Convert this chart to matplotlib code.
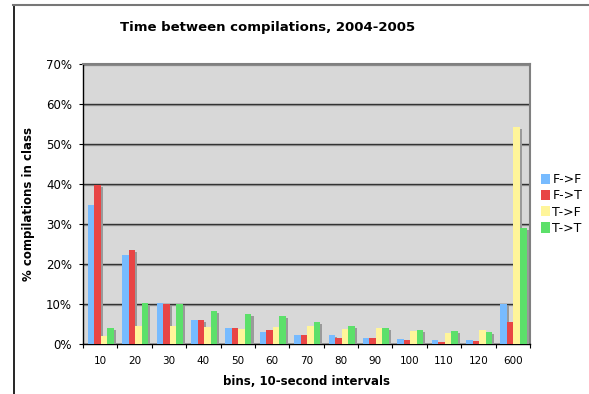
import numpy as np
import matplotlib
matplotlib.use("Agg")
import matplotlib.pyplot as plt
import matplotlib.patheffects as pe
from matplotlib.lines import Line2D

# bins (10-second intervals) and the % of compilations per class
bins = ["10", "20", "30", "40", "50", "60", "70", "80", "90", "100", "110", "120", "600"]
ff = [34.75, 22.25, 10.2, 6.0, 4.0, 3.0, 2.25, 2.25, 1.5, 1.25, 1.0, 1.0, 10.0]
ft = [39.75, 23.5, 10.0, 6.0, 4.0, 3.5, 2.25, 1.6, 1.5, 1.0, 0.5, 0.75, 5.5]
tf = [2.0, 4.5, 4.5, 4.25, 3.75, 4.25, 4.5, 3.75, 4.0, 3.25, 2.75, 3.5, 54.25]
tt = [4.0, 10.2, 10.0, 8.25, 7.5, 7.0, 5.5, 4.5, 4.0, 3.5, 3.25, 3.0, 29.0]

series = [("F->F", ff, "#77BBFF"), ("F->T", ft, "#E84545"),
          ("T->F", tf, "#FFF59A"), ("T->T", tt, "#5CE06A")]

plt.rcParams['font.family'] = ['DejaVu Sans']

fig = plt.figure(figsize=(5.89, 3.94), dpi=100)
ax = fig.add_axes([83 / 589, 50 / 394, 447 / 589, 280 / 394])
ax.set_facecolor("#D8D8D8")

x = np.arange(len(bins))
w = 0.19
shadow = [pe.SimplePatchShadow(offset=(1.5, -1.5), shadow_rgbFace="#9a9a9a", alpha=1.0), pe.Normal()]
for i, (name, vals, col) in enumerate(series):
    bars = ax.bar(x + (i - 1.5) * w + 0.02, vals, width=w, color=col, label=name,
                  zorder=3, linewidth=0)
    for b in bars:
        b.set_path_effects(shadow)

ax.set_xlim(-0.5, len(bins) - 0.5)
ax.set_ylim(0, 70)
ax.set_yticks(np.arange(0, 71, 10))
ax.set_yticklabels([f"{v}%" for v in range(0, 71, 10)], fontsize=8.5)
ax.yaxis.grid(True, color="#333333", linewidth=1.0, zorder=1,
              path_effects=[pe.SimpleLineShadow(offset=(0, -1), shadow_color="#a0a0a0", alpha=1), pe.Normal()])
ax.tick_params(axis="y", direction="out", length=3, width=0.8, pad=5, colors="black")

ax.set_xticks(x)
ax.set_xticklabels(bins, fontsize=7.5)
ax.set_xticks(np.arange(len(bins) + 1) - 0.5, minor=True)
ax.tick_params(axis="x", which="major", length=0, pad=9)
ax.tick_params(axis="x", which="minor", direction="out", length=3, width=0.8)

for s in ["left", "bottom"]:
    ax.spines[s].set_color("black")
    ax.spines[s].set_linewidth(1.0)
for s in ["top", "right"]:
    ax.spines[s].set_color("#808080")
    ax.spines[s].set_linewidth(1.5)

ax.set_xlabel("bins, 10-second intervals", fontsize=8.5, fontweight="bold", labelpad=6)
ax.set_ylabel("% compilations in class", fontsize=8.5, fontweight="bold", labelpad=8)
fig.text(268 / 589, 1 - 28 / 394, "Time between compilations, 2004-2005",
         ha="center", va="center", fontsize=9.5, fontweight="bold")

leg = ax.legend(loc="center left", bbox_to_anchor=(1.0, 0.5), frameon=False,
                fontsize=9, handlelength=0.7, handleheight=0.9,
                handletextpad=0.2, labelspacing=0.25, borderaxespad=0.5)
for h in leg.legend_handles:
    h.set_path_effects([])

# outer chart frame (only left and top edges visible in the crop)
fig.add_artist(Line2D([14 / 589, 14 / 589], [0, 1 - 5 / 394], color="black", lw=1.2))
fig.add_artist(Line2D([13 / 589, 1], [1 - 5 / 394, 1 - 5 / 394], color="#777777", lw=1.5))

fig.savefig("out.png", dpi=100)
